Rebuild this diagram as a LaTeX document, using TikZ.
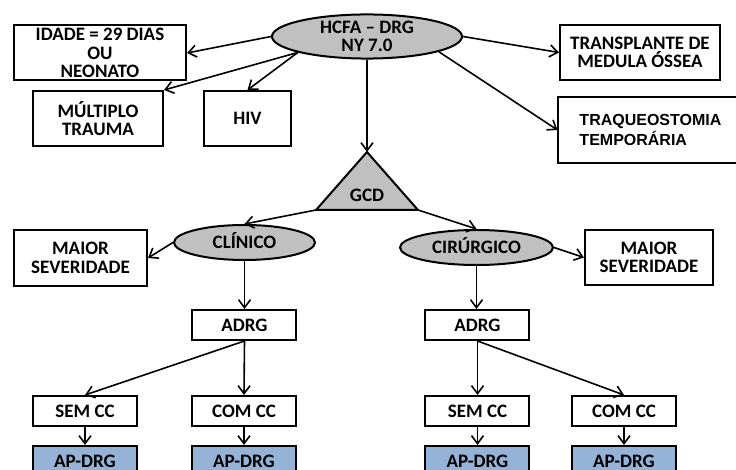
\documentclass[tikz,border=0pt]{standalone}
\usepackage{fontspec}
\setmainfont{Carlito}
\newfontfamily\arialfont{Liberation Sans}
\usetikzlibrary{arrows.meta,shapes.geometric}

\definecolor{ovalgray}{RGB}{192,192,192}
\definecolor{apblue}{RGB}{149,179,215}

\begin{document}
\begin{tikzpicture}[x=0.5pt, y=-0.5pt,
    >={Straight Barb[length=4pt,width=6pt]},
    every node/.style={font=\bfseries\fontsize{9.5pt}{9.3pt}\selectfont},
    box/.style={draw, rectangle, line width=1pt, inner sep=0pt, align=center},
    oval/.style={draw, ellipse, line width=1pt, fill=ovalgray, inner sep=0pt},
    smalloval/.style={oval, text height=6.2pt, text depth=0pt},
    apbox/.style={box, fill=apblue, minimum width=52pt, minimum height=15pt},
    ccbox/.style={box, minimum width=52pt, minimum height=15pt},
    link/.style={->, line width=0.8pt}]
    \useasboundingbox (0, 0) rectangle (736, 470);

    % Define nodes
    \node[oval, align=center, minimum width=95pt, minimum height=20.5pt] at (367, 36.5) (hcfa) {HCFA -- DRG\\NY 7.0};
    \node[box, minimum width=86pt, minimum height=27.5pt] at (100, 53) (idade) {IDADE = 29 DIAS\\OU\\NEONATO};
    \node[box, minimum width=65pt, minimum height=27.5pt] at (98, 118.5) (multiplo) {MÚLTIPLO\\TRAUMA};
    \node[box, minimum width=43.5pt, minimum height=27.5pt] at (247.5, 118.5) (hiv) {HIV};
    \node[box, minimum width=80pt, minimum height=27.5pt] at (640, 52.5) (transplante) {TRANSPLANTE DE\\MEDULA ÓSSEA};
    \node[box, minimum height=33pt, inner xsep=10.5pt, text width=70pt, align=left,
          font=\arialfont\bfseries\fontsize{8pt}{10pt}\selectfont] at (649.5, 130) (traqueo) {TRAQUEOSTOMIA\\TEMPORÁRIA};

    % GCD triangle
    \coordinate (gcdtop) at (367, 152);
    \coordinate (gcdleft) at (316, 210);
    \coordinate (gcdright) at (418, 210);
    \draw[line width=1pt, fill=ovalgray, line join=miter] (gcdtop) -- (gcdright) -- (gcdleft) -- cycle;
    \node at (367, 195) (gcd) {GCD};

    \node[smalloval, minimum width=70.5pt, minimum height=17.5pt] at (244.5, 242.5) (clinico) {CLÍNICO};
    \node[smalloval, minimum width=76.5pt, minimum height=17.5pt] at (476.5, 247.5) (cirurgico) {CIRÚRGICO};
    \node[box, minimum width=66.5pt, minimum height=28pt] at (80.5, 258) (maiorL) {MAIOR\\SEVERIDADE};
    \node[box, minimum width=64pt, minimum height=27.5pt] at (649, 257.5) (maiorR) {MAIOR\\SEVERIDADE};

    \node[ccbox] at (244.5, 325) (adrgL) {ADRG};
    \node[ccbox] at (477.5, 325) (adrgR) {ADRG};
    \node[ccbox] at (85, 411) (semL) {SEM CC};
    \node[ccbox] at (244, 411) (comL) {COM CC};
    \node[ccbox] at (477.5, 411) (semR) {SEM CC};
    \node[ccbox] at (624, 411) (comR) {COM CC};
    \node[apbox] at (85, 461) (apL1) {AP-DRG};
    \node[apbox] at (244, 461) (apL2) {AP-DRG};
    \node[apbox] at (477.5, 461) (apR1) {AP-DRG};
    \node[apbox] at (624, 461) (apR2) {AP-DRG};

    % Draw arrows
    \draw[link] (hcfa.west) -- (idade.east);
    \draw[link] (hcfa.193) -- (multiplo.north east);
    \draw[link] (hcfa.193) -- (hiv.north);
    \draw[link] (hcfa.east) -- (transplante.west);
    \draw[link] (hcfa.-12) -- (traqueo.west);
    \draw[link] (hcfa.south) -- (gcdtop);
    \draw[link] (gcdleft) -- (clinico.north);
    \draw[link] (gcdright) -- (cirurgico.north);
    \draw[link] (clinico.west) -- (maiorL.east);
    \draw[link] (cirurgico.east) -- (maiorR.west);
    \draw[link] (clinico.south) -- (adrgL.north);
    \draw[link] (cirurgico.south) -- (cirurgico.south |- adrgR.north);
    \draw[link] (adrgL.south) -- (semL.north);
    \draw[link] (adrgL.south) -- (comL.north);
    \draw[link] (adrgR.south) -- (semR.north);
    \draw[link] (adrgR.south) -- (comR.north);
    \draw[link] (semL) -- (apL1);
    \draw[link] (comL) -- (apL2);
    \draw[link] (semR) -- (apR1);
    \draw[link] (comR) -- (apR2);
\end{tikzpicture}
\end{document}
